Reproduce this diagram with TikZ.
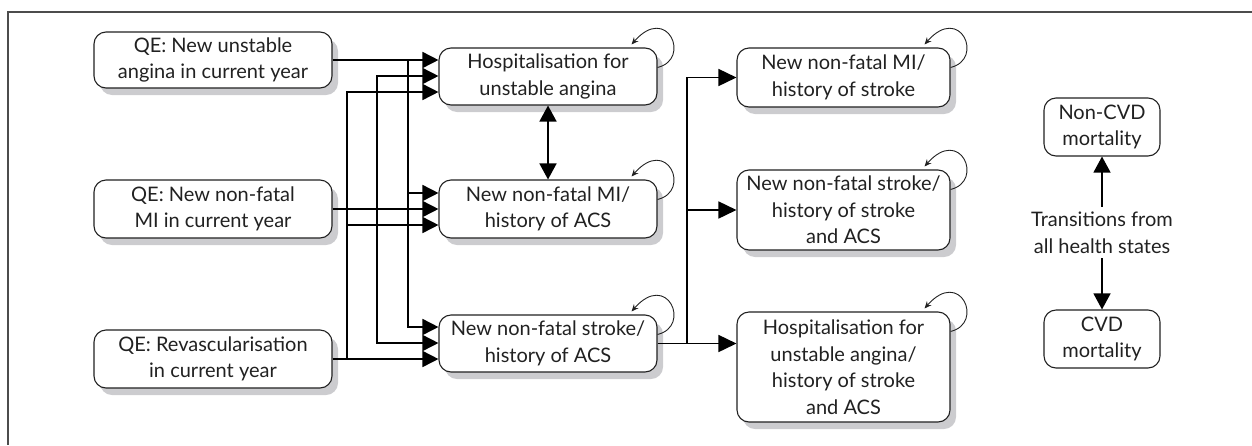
\documentclass[tikz,border=0pt]{standalone}
\usepackage{fontspec}
\setmainfont{Lato}
\usetikzlibrary{arrows.meta,calc}
\definecolor{ink}{rgb}{0.13,0.13,0.13}
\definecolor{shadowgray}{rgb}{0.80,0.80,0.81}
\begin{document}
\begin{tikzpicture}[x=1pt,y=-1pt,
  font=\fontsize{20}{26.5}\selectfont,
  every node/.style={text=ink},
  state/.style={draw=ink, line width=1.1pt, rounded corners=12pt, fill=white, align=center, inner sep=0pt},
  shadownode/.style={fill=shadowgray, draw=none, rounded corners=12pt, inner sep=0pt},
  conn/.style={draw=black, line width=1.6pt},
  arr/.style={conn, -{Triangle[length=16pt,width=16pt]}},
  arrb/.style={conn, -{Triangle[length=18pt,width=17pt]}},
  loopst/.style={draw=ink, line width=0.9pt, -{Stealth[length=7pt,width=6pt]}},
]
\useasboundingbox (0,0) rectangle (1252,445);
\draw[line width=1.2pt, draw=black!70] (1252,12) -- (8,12) -- (8,445);

% shadows (drawn first)
\node[shadownode, minimum width=238pt, minimum height=56pt] (sqe1) at (219,67) {};
\node[shadownode, minimum width=238pt, minimum height=58pt] (sqe2) at (219,216) {};
\node[shadownode, minimum width=238pt, minimum height=58pt] (sqe3) at (219,366) {};
\node[shadownode, minimum width=218pt, minimum height=57pt] (shua) at (554,83.5) {};
\node[shadownode, minimum width=218pt, minimum height=58pt] (smi) at (554,216) {};
\node[shadownode, minimum width=218pt, minimum height=57pt] (sst) at (554,350.5) {};
\node[shadownode, minimum width=213pt, minimum height=59pt] (sr1) at (849.5,84.5) {};
\node[shadownode, minimum width=213pt, minimum height=80pt] (sr2) at (849.5,217) {};
\node[shadownode, minimum width=213pt, minimum height=110pt] (sr3) at (849.5,374) {};

% left column
\node[state, minimum width=238pt, minimum height=56pt] (qe1) at (213,60) {QE: New unstable\\angina in current year};
\node[state, minimum width=238pt, minimum height=58pt] (qe2) at (213,209) {QE: New non-fatal\\MI in current year};
\node[state, minimum width=238pt, minimum height=58pt] (qe3) at (213,359) {QE: Revascularisation\\in current year};

% middle column
\node[state, minimum width=218pt, minimum height=57pt] (hua) at (548,76.5) {Hospitalisation for\\unstable angina};
\node[state, minimum width=218pt, minimum height=58pt] (mi) at (548,209) {New non-fatal MI/\\history of ACS};
\node[state, minimum width=218pt, minimum height=57pt] (st) at (548,343.5) {New non-fatal stroke/\\history of ACS};

% right column
\node[state, minimum width=213pt, minimum height=59pt] (r1) at (843.5,77.5) {New non-fatal MI/\\history of stroke};
\node[state, minimum width=213pt, minimum height=80pt] (r2) at (843.5,210) {New non-fatal stroke/\\history of stroke\\and ACS};
\node[state, minimum width=213pt, minimum height=110pt] (r3) at (843.5,367) {Hospitalisation for\\unstable angina/\\history of stroke\\and ACS};

% mortality
\node[state, minimum width=116pt, minimum height=58pt] (ncvd) at (1102,127) {Non-CVD\\mortality};
\node[state, minimum width=116pt, minimum height=58pt] (cvd) at (1102,339) {CVD\\mortality};
\node[align=center, inner xsep=0pt, inner ysep=5pt] (trans) at (1102,232.5) {Transitions from\\all health states};

% bus coordinates
\coordinate (b1) at (408,0);
\coordinate (b2) at (377,0);
\coordinate (b3) at (347,0);
\coordinate (b4) at (687,0);
\coordinate (h2) at ($(qe1.east -| hua.west)+(0,16)$);
\coordinate (h3) at ($(qe1.east -| hua.west)+(0,32)$);
\coordinate (m1) at ($(qe2.east -| mi.west)+(0,-16)$);
\coordinate (m3) at ($(qe2.east -| mi.west)+(0,16)$);
\coordinate (s1) at ($(qe3.east -| st.west)+(0,-32)$);
\coordinate (s2) at ($(qe3.east -| st.west)+(0,-16)$);

% QE1
\draw[arr] (qe1.east) -- (qe1.east -| hua.west);
\draw[arr] (b1 |- qe1.east) -- (b1 |- m1) -- (m1);
\draw[arr] (b1 |- m1) -- (b1 |- s1) -- (s1);
% QE2
\draw[arr] (qe2.east) -- (qe2.east -| mi.west);
\draw[arr] (b2 |- qe2.east) -- (b2 |- h2) -- (h2);
\draw[arr] (b2 |- qe2.east) -- (b2 |- s2) -- (s2);
% QE3
\draw[arr] (qe3.east) -- (qe3.east -| st.west);
\draw[arr] (b3 |- qe3.east) -- (b3 |- h3) -- (h3);
\draw[arr] (b3 |- m3) -- (m3);

% between middle boxes
\draw[conn, {Triangle[length=16pt,width=17pt]}-{Triangle[length=16pt,width=17pt]}] (hua.south) -- (mi.north);

% to right column
\draw[arrb] (st.east) -- (st.east -| r3.west);
\draw[arrb] (b4 |- st.east) -- (b4 |- r1.west) -- (r1.west);
\draw[arrb] (b4 |- r2.west) -- (r2.west);

% mortality arrows
\draw[line width=1.3pt, -{Triangle[length=16pt,width=17pt]}] (trans.north) -- (ncvd.south);
\draw[line width=1.3pt, -{Triangle[length=16pt,width=17pt]}] (trans.south) -- (cvd.north);

% self loops
\foreach \n in {hua,mi,st,r1,r2,r3}{
  \draw[loopst] ([yshift=-20pt]\n.north east) .. controls ($(\n.north east)+(34,12)$) and ($(\n.north east)+(10,-44)$) .. ([xshift=-26pt,yshift=3pt]\n.north east);
}
\end{tikzpicture}
\end{document}
